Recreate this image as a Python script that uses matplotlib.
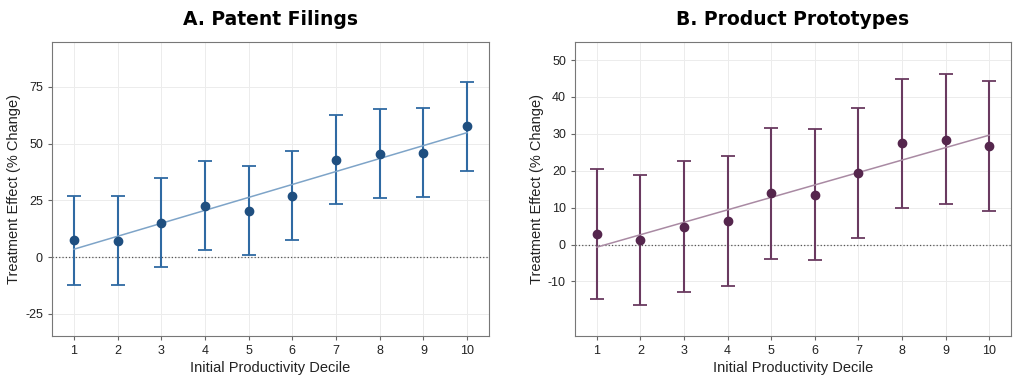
import numpy as np
import matplotlib
matplotlib.use("Agg")
import matplotlib.pyplot as plt

plt.rcParams['font.family'] = ['Liberation Sans', 'DejaVu Sans']
plt.rcParams['axes.unicode_minus'] = False

deciles = [1, 2, 3, 4, 5, 6, 7, 8, 9, 10]

# panel A: patent filings
patent_est = [7.5, 7.2, 15.1, 22.5, 20.4, 27.1, 42.8, 45.4, 45.9, 57.6]
patent_lo = [-12.2, -12.4, -4.4, 3.1, 0.9, 7.6, 23.4, 25.9, 26.3, 38.1]
patent_hi = [27.1, 26.9, 34.9, 42.2, 40.0, 46.6, 62.4, 65.0, 65.6, 77.2]

# panel B: product prototypes
proto_est = [2.8, 1.3, 4.8, 6.4, 13.9, 13.4, 19.5, 27.4, 28.4, 26.7]
proto_lo = [-14.9, -16.4, -12.8, -11.2, -3.8, -4.2, 1.9, 9.8, 10.9, 9.1]
proto_hi = [20.4, 18.9, 22.6, 24.1, 31.6, 31.2, 37.1, 45.0, 46.2, 44.3]

panels = [
    ("A. Patent Filings", patent_est, patent_lo, patent_hi,
     "#1f4f80", "#2f6aa3", "#7ea4c8", (-34.7, 94.7), [-25, 0, 25, 50, 75]),
    ("B. Product Prototypes", proto_est, proto_lo, proto_hi,
     "#55264d", "#6a3a60", "#a98aa3", (-24.8, 54.9), [-10, 0, 10, 20, 30, 40, 50]),
]

fig = plt.figure(figsize=(10.24, 3.8), dpi=100)
axes = [fig.add_axes([52 / 1024, 44 / 380, 437 / 1024, 294 / 380]),
        fig.add_axes([575 / 1024, 44 / 380, 436 / 1024, 294 / 380])]

x = np.array(deciles)
for ax, (title, est, lo, hi, mcol, ecol, lcol, ylim, yticks) in zip(axes, panels):
    est = np.array(est)
    yerr = [est - np.array(lo), np.array(hi) - est]
    ax.grid(True, color="#ececec", linewidth=0.7)
    ax.set_axisbelow(True)
    ax.axhline(0, color="#555555", linestyle=":", linewidth=0.9)
    ax.errorbar(x, est, yerr=yerr, fmt="none", ecolor=ecol, elinewidth=1.5,
                capsize=5, capthick=1.3)
    ax.plot(x, est, "o", color=mcol, markersize=6, zorder=4)
    slope, intercept = np.polyfit(x, est, 1)
    ax.plot(x, slope * x + intercept, color=lcol, linewidth=1.1, zorder=3)
    ax.set_xlim(0.5, 10.5)
    ax.set_ylim(*ylim)
    ax.set_xticks(deciles)
    ax.set_yticks(yticks)
    ax.tick_params(labelsize=9, colors="#222222", length=3, color="#666666")
    for s in ax.spines.values():
        s.set_color("#777777")
    ax.set_xlabel("Initial Productivity Decile", fontsize=10.5, color="#222222", labelpad=3)
    ax.set_ylabel("Treatment Effect (% Change)", fontsize=10.5, color="#222222", labelpad=3)
    ax.set_title(title, fontsize=13.5, fontweight="bold", family="DejaVu Sans", pad=12)

fig.savefig("out.png", dpi=100)
